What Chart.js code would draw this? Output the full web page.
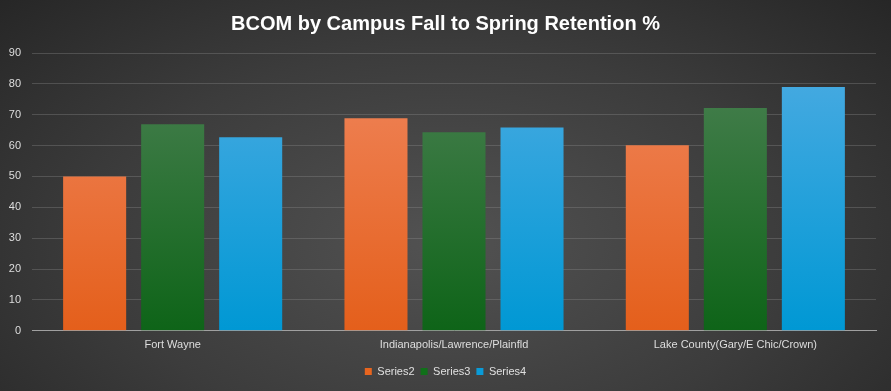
<!DOCTYPE html>
<html>
<head>
<meta charset="utf-8">
<script src="https://cdn.jsdelivr.net/npm/chart.js@4"></script>
<style>
  html, body { margin: 0; padding: 0; }
  body {
    width: 891px; height: 391px; overflow: hidden;
    background: radial-gradient(ellipse 70% 90% at 50% 62%, #525252 0%, #3c3c3c 55%, #262626 100%);
  }
  #wrap { width: 891px; height: 391px; position: relative; }
</style>
</head>
<body>
<div id="wrap"><canvas id="c" width="891" height="391"></canvas></div>
<script>
const categories = ["Fort Wayne", "Indianapolis/Lawrence/Plainfld", "Lake County(Gary/E Chic/Crown)"];
const seriesNames = ["Series2", "Series3", "Series4"];
const series2 = [50.0, 68.9, 60.1];
const series3 = [66.9, 64.3, 72.2];
const series4 = [62.7, 65.9, 79.0];
const yTicks = [0, 10, 20, 30, 40, 50, 60, 70, 80, 90];

const colorStops = [
  ["#f0865d", "#e45f1b"],
  ["#4b8153", "#0e6418"],
  ["#4cabe2", "#0098d4"]
];
const legendColors = ["#e8651f", "#107019", "#0a9bd8"];

function gradFor(i) {
  return function(context) {
    const chart = context.chart;
    const { ctx, chartArea } = chart;
    if (!chartArea) return legendColors[i];
    const el = context.element;
    const top = el && el.y !== undefined ? el.y : chartArea.top;
    const bottom = el && el.base !== undefined ? el.base : chartArea.bottom;
    if (!isFinite(top) || !isFinite(bottom) || top === bottom) return legendColors[i];
    const g = ctx.createLinearGradient(0, top, 0, bottom);
    g.addColorStop(0, colorStops[i][0]);
    g.addColorStop(1, colorStops[i][1]);
    return g;
  };
}

const data = {
  labels: categories,
  datasets: [series2, series3, series4].map((vals, i) => ({
    label: seriesNames[i],
    data: vals,
    backgroundColor: gradFor(i),
    borderWidth: 0,
    categoryPercentage: 0.832,
    barPercentage: 0.808
  }))
};

new Chart(document.getElementById("c"), {
  type: "bar",
  data,
  options: {
    responsive: false,
    animation: false,
    devicePixelRatio: 1,
    layout: { padding: { left: 0, right: 0, top: 2, bottom: 4 } },
    plugins: {
      title: {
        display: true,
        text: "BCOM by Campus Fall to Spring Retention %",
        color: "#ffffff",
        font: { family: "Liberation Sans", size: 20, weight: "bold" },
        padding: { top: 10, bottom: 17 }
      },
      legend: {
        position: "bottom",
        labels: {
          color: "#e0e0e0",
          font: { family: "Liberation Sans", size: 11 },
          boxWidth: 7,
          boxHeight: 7,
          padding: 6,
          generateLabels(chart) {
            return chart.data.datasets.map((ds, i) => ({
              text: ds.label,
              fillStyle: legendColors[i],
              strokeStyle: legendColors[i],
              lineWidth: 0,
              datasetIndex: i,
              fontColor: "#e0e0e0"
            }));
          }
        }
      },
      tooltip: { enabled: false }
    },
    scales: {
      x: {
        grid: { display: false, drawTicks: false },
        border: { display: true, color: "#a0a0a0", width: 1 },
        ticks: {
          color: "#dedede",
          font: { family: "Liberation Sans", size: 11 },
          padding: 8,
          maxRotation: 0
        }
      },
      y: {
        min: 0,
        max: 90,
        afterBuildTicks(axis) { axis.ticks = yTicks.map(v => ({ value: v })); },
        afterFit(axis) { axis.width = 32; },
        grid: { color: "rgba(140,140,140,0.35)", drawTicks: false },
        border: { display: false },
        ticks: {
          color: "#dedede",
          font: { family: "Liberation Sans", size: 11 },
          padding: 11
        }
      },
      yRight: {
        position: "right",
        min: 0,
        max: 90,
        afterFit(axis) { axis.width = 15; },
        grid: { display: false, drawTicks: false },
        border: { display: false },
        ticks: { display: false }
      }
    }
  }
});
</script>
</body>
</html>
